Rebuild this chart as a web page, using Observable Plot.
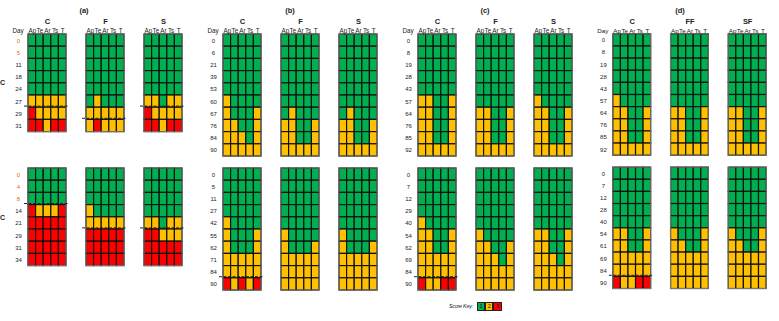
<!DOCTYPE html>
<html>
<head>
<meta charset="utf-8">
<script src="https://cdn.jsdelivr.net/npm/d3@7"></script>
<script src="https://cdn.jsdelivr.net/npm/@observablehq/plot@0.6"></script>
<style>
  html, body { margin: 0; padding: 0; background: #fff; }
  #wrap { position: relative; width: 779px; height: 321px; overflow: hidden; font-family: "Liberation Sans", Arial, sans-serif; }
  .grp { position: absolute; top: 0; }
  .lab { position: absolute; font-size: 7.5px; font-weight: bold; color: #222; transform: translate(-50%, -50%); white-space: nowrap; }
  .key { position: absolute; left: 449px; top: 302.5px; font-size: 5.3px; font-style: italic; color: #222; letter-spacing: -0.2px; font-family: "Liberation Sans Narrow", "Liberation Sans", Arial, sans-serif; }
  .box { position: absolute; top: 302px; width: 6.2px; height: 6.6px; border: 1px solid #222; font-size: 5.5px; text-align: center; line-height: 6.6px; color: #111; }
</style>
</head>
<body>
<div id="wrap"></div>
<script>
// ---------- data ----------
const groupIds = ["a", "b", "c", "d"];
const groupLabels = ["(a)", "(b)", "(c)", "(d)"];
const columns = ["Ap", "Te", "Ar", "Ts", "T"];
const panels_a = ["C", "F", "S"];
const panels_b = ["C", "F", "S"];
const panels_c = ["C", "F", "S"];
const panels_d = ["C", "FF", "SF"];
const rowLabels = ["C", "C"];
const scoreKey = [1, 2, 3];
const scoreColors = ["#00b050", "#ffc000", "#ff0000"];

// days (row labels)
const days_a_top = [0, 5, 11, 18, 24, 27, 29, 31];
const days_a_bot = [0, 4, 8, 14, 21, 29, 31, 34];
const days_b_top = [0, 6, 21, 39, 53, 60, 67, 76, 84, 90];
const days_b_bot = [0, 5, 11, 27, 42, 55, 62, 71, 84, 90];
const days_c_top = [0, 8, 19, 28, 43, 57, 64, 76, 85, 92];
const days_c_bot = [0, 7, 12, 29, 40, 54, 62, 69, 84, 90];
const days_d_top = [0, 8, 19, 28, 43, 57, 64, 76, 85, 92];
const days_d_bot = [0, 7, 12, 28, 40, 54, 61, 69, 84, 90];
// day labels drawn in orange (group a)
const highlight_a_top = [0, 5];
const highlight_a_bot = [0, 4, 8];

// scores: one string per day, one digit per column (Ap Te Ar Ts T)
const a_top_C = ["11111","11111","11111","11111","11111","22222","32222","33233"];
const a_top_F = ["11111","11111","11111","11111","11111","12111","22222","23222"];
const a_top_S = ["11111","11111","11111","11111","11111","22122","32222","33233"];
const a_bot_C = ["11111","11111","11111","32223","33333","33333","33333","33333"];
const a_bot_F = ["11111","11111","11111","21111","22222","33333","33333","33333"];
const a_bot_S = ["11111","11111","11111","11111","22122","33222","33333","33333"];

const b_top_C = ["11111","11111","11111","11111","11111","21111","21112","22112","22212","22222"];
const b_top_F = ["11111","11111","11111","11111","11111","11111","12111","22112","22112","22222"];
const b_top_S = ["11111","11111","11111","11111","11111","11111","12111","22112","22112","22222"];
const b_bot_C = ["11111","11111","11111","11111","21111","21112","21112","22222","22222","32323"];
const b_bot_F = ["11111","11111","11111","11111","11111","21111","21112","22222","22222","22222"];
const b_bot_S = ["11111","11111","11111","11111","11111","21111","21112","22222","22222","22222"];

const c_top_C = ["11111","11111","11111","11111","11111","22112","22112","22112","22112","22222"];
const c_top_F = ["11111","11111","11111","11111","11111","11111","22112","22112","22112","22222"];
const c_top_S = ["11111","11111","11111","11111","11111","21111","22112","22112","22112","22222"];
const c_bot_C = ["11111","11111","11111","11111","21111","22112","22112","22222","22222","32233"];
const c_bot_F = ["11111","11111","11111","11111","11111","21111","22112","22212","22222","22222"];
const c_bot_S = ["11111","11111","11111","11111","11111","22112","22112","22212","22222","22222"];

const d_top_C  = ["11111","11111","11111","11111","11111","21111","22112","22112","22112","22222"];
const d_top_FF = ["11111","11111","11111","11111","11111","11111","22112","22112","22112","22222"];
const d_top_SF = ["11111","11111","11111","11111","11111","11111","22112","22112","22112","22222"];
const d_bot_C  = ["11111","11111","11111","11111","11111","22112","22112","22222","22222","32233"];
const d_bot_FF = ["11111","11111","11111","11111","11111","21112","22112","22222","22222","22222"];
const d_bot_SF = ["11111","11111","11111","11111","11111","21112","22112","22222","22222","22222"];

// dashed threshold lines: [group, position, panel, number of rows above the line]
const thresholds = [
  ["a", "top", "C", 6], ["a", "top", "F", 7], ["a", "top", "S", 6],
  ["a", "bot", "C", 3], ["a", "bot", "F", 5], ["a", "bot", "S", 5],
  ["b", "bot", "C", 9], ["c", "bot", "C", 9], ["d", "bot", "C", 9]
];

// ---------- assemble ----------
const groupDefs = {
  a: {panels: panels_a, top: days_a_top, bot: days_a_bot, hl: {top: highlight_a_top, bot: highlight_a_bot}, scores: {top: [a_top_C, a_top_F, a_top_S], bot: [a_bot_C, a_bot_F, a_bot_S]}},
  b: {panels: panels_b, top: days_b_top, bot: days_b_bot, hl: {top: [], bot: []}, scores: {top: [b_top_C, b_top_F, b_top_S], bot: [b_bot_C, b_bot_F, b_bot_S]}},
  c: {panels: panels_c, top: days_c_top, bot: days_c_bot, hl: {top: [], bot: []}, scores: {top: [c_top_C, c_top_F, c_top_S], bot: [c_bot_C, c_bot_F, c_bot_S]}},
  d: {panels: panels_d, top: days_d_top, bot: days_d_bot, hl: {top: [], bot: []}, scores: {top: [d_top_C, d_top_FF, d_top_SF], bot: [d_bot_C, d_bot_FF, d_bot_SF]}}
};
const color = d3.scaleOrdinal(scoreKey, scoreColors);
const maxRows = 10;
const wrap = document.getElementById("wrap");
const GW = 195, H = 300;
const narrow = "'Liberation Sans Narrow', 'Liberation Sans', Arial, sans-serif";

groupIds.forEach((gid, gi) => {
  const g = groupDefs[gid];
  const cells = [], frames = [], dayText = [], colText = [], heads = [];
  for (const pos of ["top", "bot"]) {
    const days = g[pos];
    g.panels.forEach((p, pi) => {
      const sc = g.scores[pos][pi];
      sc.forEach((row, r) => {
        [...row].forEach((ch, c) => cells.push({fx: p, fy: pos, col: c, row: r, score: +ch}));
      });
      frames.push({fx: p, fy: pos, ncol: columns.length, nrow: days.length});
      if (pos === "top") {
        columns.forEach((cn, c) => colText.push({fx: p, fy: pos, col: c, text: cn}));
        heads.push({fx: p, fy: pos, text: p});
      }
    });
    days.forEach((d, r) => dayText.push({fx: g.panels[0], fy: pos, row: r, text: String(d),
      hl: g.hl[pos].includes(d)}));
  }
  const dayHead = [{fx: g.panels[0], fy: "top", text: "Day"}];
  const dashes = thresholds.filter(t => t[0] === gid).map(t => ({fy: t[1], fx: t[2], y: t[3]}));

  const chart = Plot.plot({
    width: GW, height: H,
    marginLeft: 27.3, marginRight: 12.3, marginTop: 34, marginBottom: H - 290.8,
    style: {fontFamily: "'Liberation Sans', Arial, sans-serif", background: "transparent", color: "#222"},
    fx: {domain: g.panels, paddingInner: 0.341, paddingOuter: 0, axis: null},
    fy: {domain: ["top", "bot"], paddingInner: 0.088, paddingOuter: 0, axis: null},
    x: {domain: [0, columns.length], axis: null},
    y: {domain: [0, maxRows], reverse: true, axis: null},
    marks: [
      Plot.rect(cells, {fx: "fx", fy: "fy", x1: "col", x2: d => d.col + 1, y1: "row", y2: d => d.row + 1,
        fill: d => color(d.score), stroke: "#111", strokeWidth: 1.2}),
      Plot.rect(frames, {fx: "fx", fy: "fy", x1: d => 0, x2: "ncol", y1: d => 0, y2: "nrow",
        fill: "none", stroke: "#777", strokeWidth: 1}),
      Plot.ruleY(dashes, {fx: "fx", fy: "fy", y: "y", x1: d => 0, x2: d => columns.length, dy: -1.6,
        insetLeft: -4, insetRight: -3, stroke: "#222", strokeWidth: 1, strokeDasharray: "3,1.5"}),
      Plot.text(colText, {fx: "fx", fy: "fy", x: d => d.col + 0.5, y: d => 0, text: "text",
        lineAnchor: "bottom", dy: -1.8, fontSize: 6.3, fontFamily: narrow, fill: "#222"}),
      Plot.text(heads, {fx: "fx", fy: "fy", x: d => columns.length / 2, y: d => 0, text: "text",
        lineAnchor: "bottom", dy: -10.5, fontSize: 7.5, fontWeight: "bold", fill: "#222"}),
      Plot.text(dayHead, {fx: "fx", fy: "fy", x: d => 0, y: d => 0, text: "text",
        lineAnchor: "bottom", dy: -1.8, dx: -10.5, fontSize: 6.3, fontFamily: narrow, fill: "#222"}),
      Plot.text(dayText, {fx: "fx", fy: "fy", x: d => 0, y: d => d.row + 0.5, text: "text",
        dx: -10, fontSize: 6, fill: d => d.hl ? "#e46c0a" : "#222"})
    ]
  });
  const div = document.createElement("div");
  div.className = "grp";
  div.style.left = (gi * GW) + "px";
  div.appendChild(chart);
  wrap.appendChild(div);
});

// group labels
const gx = [84, 290, 485, 680];
groupLabels.forEach((t, i) => {
  const el = document.createElement("div");
  el.className = "lab";
  el.style.left = gx[i] + "px";
  el.style.top = "10px";
  el.textContent = t;
  wrap.appendChild(el);
});
// left row labels
[82, 217].forEach((y, i) => {
  const el = document.createElement("div");
  el.className = "lab";
  el.style.left = "0px";
  el.style.transform = "translate(0, -50%)";
  el.style.top = y + "px";
  el.style.fontSize = "7px";
  el.textContent = rowLabels[i];
  wrap.appendChild(el);
});
// score key
const key = document.createElement("div");
key.className = "key";
key.textContent = "Score Key:";
wrap.appendChild(key);
scoreKey.forEach((s, i) => {
  const b = document.createElement("div");
  b.className = "box";
  b.style.left = (477 + i * 8.2) + "px";
  b.style.background = color(s);
  b.textContent = s;
  wrap.appendChild(b);
});
</script>
</body>
</html>
